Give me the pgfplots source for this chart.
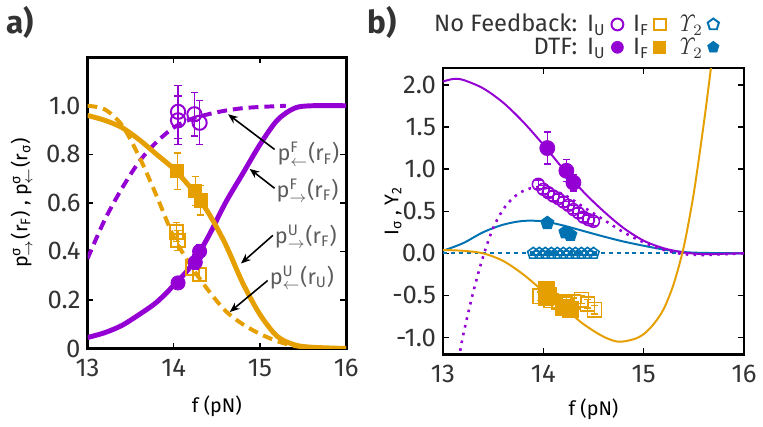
\documentclass[border=0pt]{standalone}
\usepackage[no-math]{fontspec}
\setmainfont{Fira Sans}
\usepackage{amsmath}
\usepackage{pgfplots}
\pgfplotsset{compat=1.18}
\usetikzlibrary{arrows.meta}
\definecolor{cpur}{HTML}{9400D3}
\definecolor{corg}{HTML}{E69F00}
\definecolor{cblu}{HTML}{0072B2}
\definecolor{ctxt}{HTML}{333333}
\newcommand\fs[1]{\fontsize{#1}{#1}\selectfont}
\newcommand\mk[2]{\tikz[baseline=-0.6ex]{\pgfsetplotmarksize{3pt}\path[#1] (0pt,0pt) -- (0pt,0pt);\begin{scope}[#1]\pgfuseplotmark{#2}\end{scope}}}
\begin{document}
\begin{tikzpicture}
\path (0pt,0pt) rectangle (381.5pt,212.5pt);
\pgfplotsset{
 myax/.style={
  scale only axis, anchor=south west,
  axis line style={line width=1.4pt},
  tick style={black, line width=0.7pt},
  major tick length=3pt,
  tick align=inside,
  xmin=13, xmax=16, xtick={13,14,15,16}, xticklabels={13,14,15,16},
  tick label style={font=\fs{13}, text=ctxt},
  xticklabel style={yshift=-2pt},
  label style={font=\fs{13}, text=ctxt},
  clip mode=individual,
  xlabel={f (pN)},
 },
 eb/.style={error bars/.cd, y dir=both, y explicit,
   error bar style={line width=0.6pt, solid},
   error mark options={rotate=90, mark size=1.8pt, line width=0.6pt, solid}},
}
% ---------------- panel a ----------------
\begin{axis}[myax, at={(44pt,39.5pt)}, width=131pt, height=147.5pt,
  ymin=0, ymax=1.2, ytick={0,0.2,0.4,0.6,0.8,1.0}, yticklabels={0,0.2,0.4,0.6,0.8,1.0},
  ylabel={p$^{\text{σ}}_{\rightarrow}$(r\textsubscript{F}) , p$^{\text{σ}}_{\leftarrow}$(r\textsubscript{σ})},
  every axis y label/.style={at={(axis description cs:-0.255,0.5)}, rotate=90, anchor=center},
  every axis x label/.style={at={(axis description cs:0.5,-0.2)}, anchor=center},
]
\addplot[cpur, line width=2pt, dash pattern=on 5pt off 3pt, smooth] coordinates {
(13.0,0.37) (13.2,0.53) (13.4,0.66) (13.6,0.77) (13.8,0.85) (14.0,0.91) (14.2,0.945)
(14.4,0.965) (14.6,0.98) (14.8,0.99) (15.0,0.995) (15.3,1.0)};
\addplot[corg, line width=2pt, dash pattern=on 5pt off 3pt, smooth] coordinates {
(13.0,1.0) (13.2,0.985) (13.4,0.92) (13.6,0.79) (13.8,0.63) (14.0,0.46) (14.2,0.34)
(14.4,0.24) (14.6,0.155) (14.8,0.1) (15.0,0.06) (15.2,0.03) (15.4,0.01) (15.6,0.003) (16.0,0.0)};
\addplot[cpur, line width=2.5pt, smooth] coordinates {
(13.0,0.045) (13.2,0.065) (13.4,0.095) (13.6,0.14) (13.8,0.19) (14.0,0.26) (14.2,0.34)
(14.4,0.46) (14.6,0.6) (14.8,0.72) (15.0,0.84) (15.2,0.94) (15.4,0.99) (15.6,1.0) (16.0,1.0)};
\addplot[corg, line width=2.5pt, smooth] coordinates {
(13.0,0.96) (13.2,0.94) (13.4,0.91) (13.6,0.86) (13.8,0.80) (14.0,0.74) (14.2,0.66)
(14.4,0.56) (14.6,0.43) (14.8,0.27) (15.0,0.14) (15.2,0.05) (15.4,0.015) (15.6,0.005) (16.0,0.0)};
\addplot[cpur, only marks, mark=o, mark size=3.6pt, line width=1pt, eb] coordinates {
(14.05,0.975) +- (0,0.11) (14.05,0.94) +- (0,0.1) (14.24,0.965) +- (0,0.09) (14.3,0.93) +- (0,0.09)};
\addplot[corg, only marks, mark=square, mark size=3.4pt, line width=1pt, eb] coordinates {
(14.03,0.48) +- (0,0.04) (14.05,0.445) +- (0,0.04) (14.22,0.33) +- (0,0.03) (14.3,0.305) +- (0,0.03)};
\addplot[corg, only marks, mark=square*, mark size=3.3pt, eb] coordinates {
(14.04,0.73) +- (0,0.075) (14.25,0.65) +- (0,0.06) (14.31,0.61) +- (0,0.06)};
\addplot[cpur, only marks, mark=*, mark size=3.6pt, eb] coordinates {
(14.05,0.27) +- (0,0.02) (14.25,0.355) +- (0,0.03) (14.3,0.40) +- (0,0.03)};
\begin{scope}[every node/.style={anchor=west, font=\fs{11}, text=ctxt!80, inner sep=0pt}]
\node at (axis cs:15.2,0.80) {p$^{\text{F}}_{\leftarrow}$(r\textsubscript{F})};
\node at (axis cs:15.19,0.65) {p$^{\text{F}}_{\rightarrow}$(r\textsubscript{F})};
\node at (axis cs:15.17,0.46) {p$^{\text{U}}_{\rightarrow}$(r\textsubscript{F})};
\node at (axis cs:15.11,0.29) {p$^{\text{U}}_{\leftarrow}$(r\textsubscript{U})};
\end{scope}
\begin{scope}[-{Stealth[length=5pt,width=4pt]}, line width=0.8pt]
\draw (axis cs:15.17,0.82) -- (axis cs:14.63,0.965);
\draw (axis cs:15.17,0.66) -- (axis cs:14.88,0.74);
\draw (axis cs:15.15,0.466) -- (axis cs:14.78,0.35);
\draw (axis cs:15.09,0.28) -- (axis cs:14.65,0.15);
\end{scope}
\end{axis}
% ---------------- panel b ----------------
\begin{axis}[myax, at={(224pt,36.5pt)}, width=152.5pt, height=145pt,
  ymin=-1.2, ymax=2.2, ytick={-1,-0.5,0,0.5,1,1.5,2}, yticklabels={-1.0,-0.5,0.0,0.5,1.0,1.5,2.0},
  ylabel={I\textsubscript{σ} , Υ\textsubscript{2}},
  every axis y label/.style={at={(axis description cs:-0.165,0.5)}, rotate=90, anchor=center},
  every axis x label/.style={at={(axis description cs:0.5,-0.19)}, anchor=center},
]
\addplot[cblu, line width=1pt, dash pattern=on 2pt off 2pt] coordinates {(13,0) (16,0)};
\addplot[cblu, line width=1pt, smooth] coordinates {
(13.0,0.03) (13.2,0.12) (13.4,0.25) (13.6,0.34) (13.8,0.385) (14.0,0.38) (14.2,0.33)
(14.4,0.265) (14.6,0.2) (14.8,0.14) (15.0,0.09) (15.2,0.045) (15.4,0.015) (15.6,0.005) (16.0,0.0)};
\addplot[cpur, line width=1.3pt, dash pattern=on 1.3pt off 2.7pt, smooth] coordinates {
(13.16,-1.25) (13.2,-0.98) (13.3,-0.47) (13.4,-0.04) (13.5,0.3) (13.6,0.52) (13.7,0.66)
(13.8,0.74) (13.9,0.78) (14.0,0.78) (14.2,0.7) (14.4,0.55) (14.6,0.4) (14.8,0.25) (15.0,0.13)
(15.2,0.04) (15.4,-0.01) (15.6,-0.02) (15.8,-0.01) (16.0,0.0)};
\addplot[cpur, line width=1pt, smooth] coordinates {
(13.0,2.04) (13.1,2.07) (13.2,2.06) (13.4,1.96) (13.6,1.79) (13.8,1.56) (14.0,1.29)
(14.2,1.0) (14.4,0.73) (14.6,0.5) (14.8,0.3) (15.0,0.15) (15.2,0.06) (15.4,0.01)
(15.6,-0.01) (15.8,-0.005) (16.0,0.0)};
\addplot[corg, line width=1pt, smooth] coordinates {
(13.0,0.04) (13.2,0.03) (13.4,0.0) (13.6,-0.09) (13.8,-0.25) (14.0,-0.45) (14.2,-0.64)
(14.4,-0.84) (14.6,-0.99) (14.75,-1.05) (14.9,-1.02) (15.0,-0.96) (15.1,-0.84) (15.2,-0.66)
(15.3,-0.36) (15.4,0.08) (15.5,0.72) (15.6,1.55) (15.67,2.2)};
\addplot[cblu, only marks, mark=pentagon, mark size=3pt, line width=0.8pt, eb] coordinates {
(13.90,0.0) +- (0,0.02) (13.96,0.0) +- (0,0.02) (14.02,0.0) +- (0,0.02) (14.08,0.0) +- (0,0.02)
(14.14,0.0) +- (0,0.02) (14.20,0.0) +- (0,0.02) (14.26,0.0) +- (0,0.02) (14.32,0.0) +- (0,0.02)
(14.38,0.0) +- (0,0.02) (14.44,0.0) +- (0,0.02) (14.50,0.0) +- (0,0.02)};
\addplot[cblu, only marks, mark=pentagon*, mark size=3.5pt, eb] coordinates {
(14.04,0.36) +- (0,0.03) (14.22,0.25) +- (0,0.03) (14.27,0.22) +- (0,0.03)};
\addplot[cpur, only marks, mark=o, mark size=3pt, line width=0.8pt, eb] coordinates {
(13.95,0.82) +- (0,0.05) (14.0,0.76) +- (0,0.05) (14.05,0.72) +- (0,0.05) (14.1,0.68) +- (0,0.05)
(14.15,0.65) +- (0,0.05) (14.2,0.61) +- (0,0.05) (14.25,0.57) +- (0,0.05) (14.3,0.52) +- (0,0.05)
(14.35,0.48) +- (0,0.05) (14.4,0.43) +- (0,0.05) (14.45,0.40) +- (0,0.05) (14.5,0.38) +- (0,0.05)};
\addplot[cpur, only marks, mark=*, mark size=3.8pt, eb] coordinates {
(14.04,1.25) +- (0,0.19) (14.23,0.98) +- (0,0.13) (14.3,0.84) +- (0,0.1)};
\addplot[corg, only marks, mark=square, mark size=3.6pt, line width=0.8pt, eb] coordinates {
(13.97,-0.51) +- (0,0.05) (14.03,-0.53) +- (0,0.05) (14.08,-0.56) +- (0,0.05) (14.16,-0.58) +- (0,0.05)
(14.22,-0.6) +- (0,0.05) (14.3,-0.58) +- (0,0.05) (14.38,-0.55) +- (0,0.05) (14.44,-0.6) +- (0,0.05)
(14.51,-0.67) +- (0,0.05)};
\addplot[corg, only marks, mark=square*, mark size=4pt, eb] coordinates {
(14.03,-0.43) +- (0,0.05) (14.05,-0.5) +- (0,0.05) (14.2,-0.64) +- (0,0.05) (14.27,-0.67) +- (0,0.05)};
\end{axis}
\node[font=\fs{16}\bfseries, text=ctxt] at (10pt,204.5pt) {a)};
\node[font=\fs{16}\bfseries, text=ctxt] at (193pt,204.5pt) {b)};
\node[anchor=north east, font=\fs{12}, text=ctxt, inner sep=0pt] at (364pt,209pt) {%
\renewcommand\arraystretch{0.92}%
\begin{tabular}{@{}r@{\hspace{5pt}}l@{\hspace{3pt}}c@{\hspace{5pt}}l@{\hspace{2.5pt}}c@{\hspace{5pt}}l@{\hspace{2.5pt}}c@{}}
No Feedback: & I\textsubscript{U} & \mk{draw=cpur, line width=1pt}{o} & I\textsubscript{F} & \mk{draw=corg, line width=1pt}{square} & $\mathit{\Upsilon}_2$ & \mk{draw=cblu, line width=1pt}{pentagon}\\
DTF: & I\textsubscript{U} & \mk{draw=cpur, fill=cpur}{*} & I\textsubscript{F} & \mk{draw=corg, fill=corg}{square*} & $\mathit{\Upsilon}_2$ & \mk{draw=cblu, fill=cblu}{pentagon*}
\end{tabular}};
\end{tikzpicture}
\end{document}
